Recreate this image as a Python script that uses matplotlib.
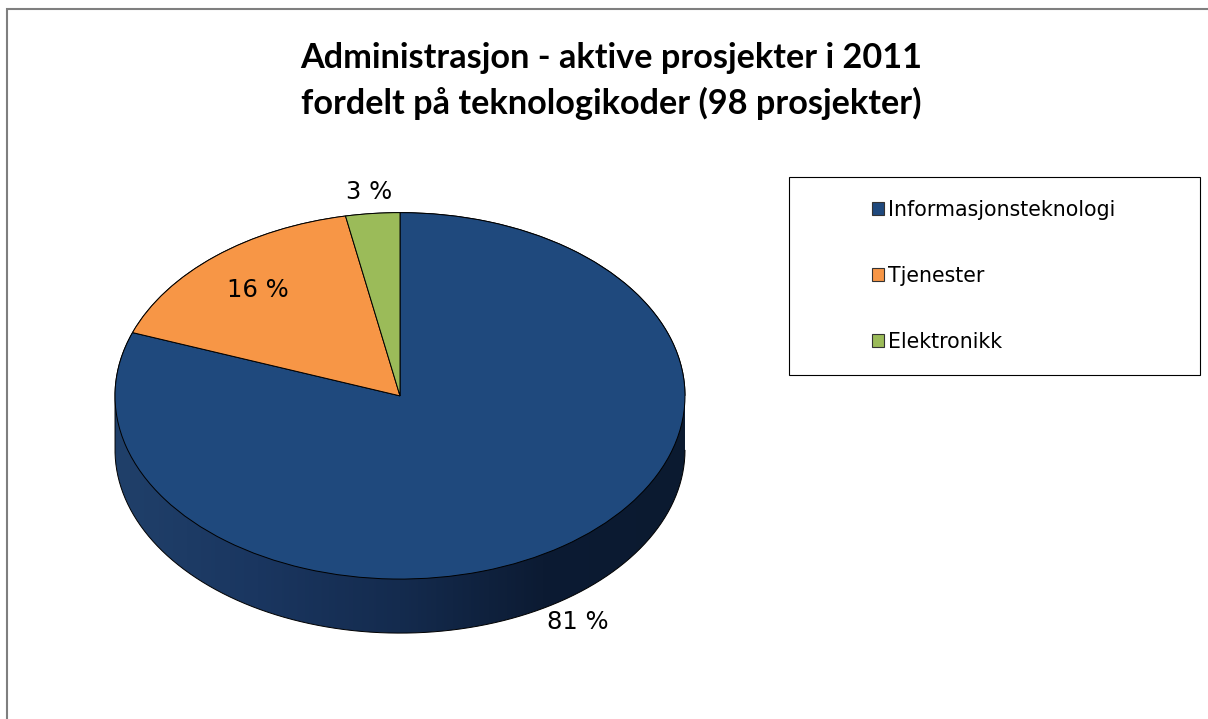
import numpy as np
import matplotlib
matplotlib.use("Agg")
import matplotlib.pyplot as plt
from matplotlib.path import Path
from matplotlib.patches import PathPatch, Rectangle
from matplotlib.colors import LinearSegmentedColormap

# ---- data ----
categories = ["Informasjonsteknologi", "Tjenester", "Elektronikk"]
counts = [79, 16, 3]            # 98 prosjekter
pct_labels = ["81 %", "16 %", "3 %"]
colors = ["#1F497D", "#F79646", "#9BBB59"]
title_lines = ["Administrasjon - aktive prosjekter i 2011",
               "fordelt på teknologikoder (98 prosjekter)"]

W, H = 1208, 719
fig = plt.figure(figsize=(W / 100, H / 100), dpi=100)
fig.patch.set_facecolor("white")

# outer chart border
fig.add_artist(Rectangle((7 / W, -0.1), 1.2, (H - 9) / H + 0.1, transform=fig.transFigure,
                         facecolor="none", edgecolor="#7f7f7f", linewidth=1.5))

# pie axes (unit radius = 285 px horizontally, 183 px vertically)
ax = fig.add_axes([58 / W, 30 / H, 684 / W, 513 / H])
depth = 0.295

# side of the 3D pie: gradient clipped to the cylinder wall
t_top = np.linspace(0, np.pi, 200)
t_bot = np.linspace(np.pi, 2 * np.pi, 200)
xs = np.concatenate([np.cos(t_top), np.cos(t_bot)])
ys = np.concatenate([np.sin(t_top), np.sin(t_bot) - depth])
side_path = Path(np.column_stack([xs, ys]), closed=False)
side_patch = PathPatch(side_path, facecolor="none", edgecolor="black", linewidth=0.7, zorder=2)
cmap = LinearSegmentedColormap.from_list("side", ["#20406a", "#1a3660", "#142b4e", "#0c1b33", "#0b1a30"])
grad = np.linspace(0, 1, 256).reshape(1, -1)
im = ax.imshow(grad, cmap=cmap, extent=(-1, 1, -1 - depth, 1), aspect="auto", zorder=1)
ax.add_patch(side_patch)
im.set_clip_path(side_patch)

wedges, _ = ax.pie(counts, colors=colors, startangle=90, counterclock=False, radius=1,
                   wedgeprops=dict(edgecolor="black", linewidth=0.7, zorder=3))
ax.set_aspect("auto")
ax.set_xlim(-1.2, 1.2)
ax.set_ylim(-1.6, 1.2)
ax.axis("off")

# percentage labels placed along each wedge's mid angle
label_r = [1.09, 0.77, 1.12]
label_dy = [-depth - 0.045, -0.01, 0.0]
for w, lab, r, dy in zip(wedges, pct_labels, label_r, label_dy):
    mid = np.deg2rad((w.theta1 + w.theta2) / 2)
    ax.text(r * np.cos(mid), r * np.sin(mid) + dy, lab, ha="center", va="center",
            fontsize=17.5, color="black", family="DejaVu Sans", zorder=5)

# title
fig.text(611 / W, 1 - 58 / H, title_lines[0], ha="center", va="center",
         fontsize=24.7, fontweight="bold", family="Lato")
fig.text(611 / W, 1 - 103 / H, title_lines[1], ha="center", va="center",
         fontsize=24.7, fontweight="bold", family="Lato")

# legend
fig.add_artist(Rectangle((789 / W, 1 - 375 / H), 411 / W, 198 / H, transform=fig.transFigure,
                         facecolor="white", edgecolor="black", linewidth=0.8))
leg = fig.legend(wedges, categories, loc="upper left",
                 bbox_to_anchor=(872 / W, 1 - 200 / H), frameon=False,
                 fontsize=14.8, handlelength=0.6, handleheight=0.6, handletextpad=0.2,
                 labelspacing=2.24, borderpad=0, borderaxespad=0)
for h in leg.legend_handles:
    h.set_edgecolor("#333333")
    h.set_linewidth(0.8)

fig.savefig("out.png", dpi=100)
